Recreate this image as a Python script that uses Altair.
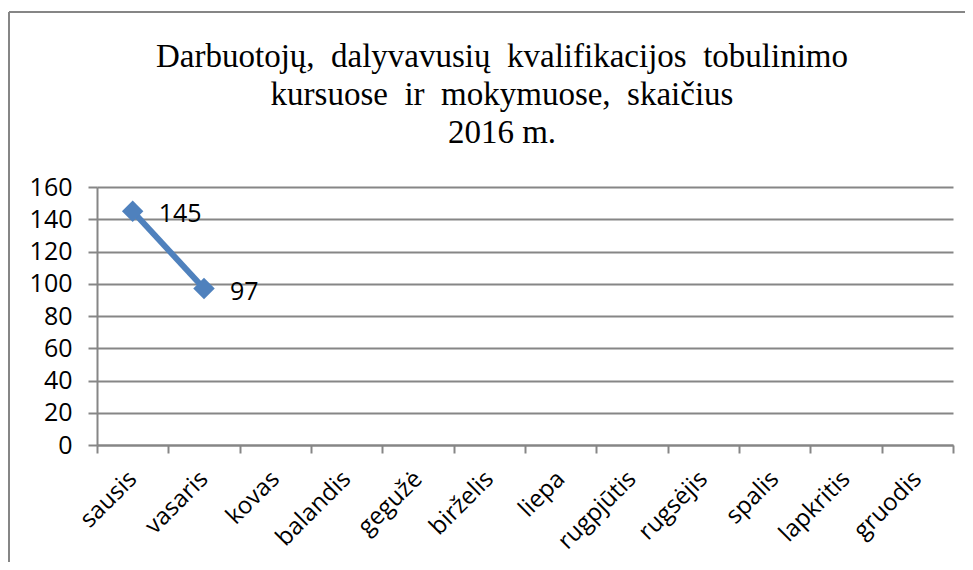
import altair as alt
import pandas as pd

months = ["sausis", "vasaris", "kovas", "balandis", "gegužė", "birželis",
          "liepa", "rugpjūtis", "rugsėjis", "spalis", "lapkritis", "gruodis"]
values = [145, 97]

title_lines = ["Darbuotojų, \u00a0dalyvavusių \u00a0kvalifikacijos \u00a0tobulinimo",
               "kursuose \u00a0ir \u00a0mokymuose, \u00a0skaičius",
               "2016 m."]

df = pd.DataFrame({"month": months[:len(values)], "value": values})

GRAY = "#868686"
BLUE = "#4F81BD"
LABEL_FONT = "Open Sans"
FS = 24

x = alt.X("month:N", sort=months,
          scale=alt.Scale(domain=months, paddingInner=0, paddingOuter=0),
          axis=alt.Axis(title=None, labelAngle=-45, labelAlign="right",
                        labelBaseline="middle", labelPadding=22,
                        labelFont=LABEL_FONT, labelFontSize=FS, labelColor="black",
                        tickBand="extent", tickSize=8, tickColor=GRAY, tickWidth=2,
                        domainColor=GRAY, domainWidth=2, grid=False))
y = alt.Y("value:Q",
          scale=alt.Scale(domain=[0, 160], nice=False),
          axis=alt.Axis(title=None, values=list(range(0, 161, 20)),
                        labelFont=LABEL_FONT, labelFontSize=25, labelColor="black",
                        labelPadding=16, tickSize=9, tickColor=GRAY, tickWidth=2,
                        domainColor=GRAY, domainWidth=2,
                        grid=True, gridColor=GRAY, gridWidth=2))

base = alt.Chart(df)

line = base.mark_line(color=BLUE, strokeWidth=6).encode(x=x, y=y)
points = base.mark_point(shape="diamond", filled=True, color=BLUE, size=460, opacity=1).encode(x=x, y=y)
labels = base.mark_text(align="left", baseline="middle", dx=26, dy=3,
                        font=LABEL_FONT, fontSize=25, color="black").encode(
    x=x, y=y, text=alt.Text("value:Q"))

frame_left = alt.Chart(df).mark_rule(color=GRAY, strokeWidth=2).encode(
    x=alt.value(-88), y=alt.value(-175), y2=alt.value(400))
frame_top = alt.Chart(df).mark_rule(color=GRAY, strokeWidth=2).encode(
    x=alt.value(-88), x2=alt.value(900), y=alt.value(-175))

chart = alt.layer(frame_left, frame_top, line, points, labels).properties(
    width=856, height=258,
    autosize=alt.AutoSizeParams(type="none"),
    padding={"left": 89, "top": 179, "right": 12, "bottom": 117},
    title=alt.TitleParams(text=title_lines, font="Liberation Serif", fontSize=33,
                          fontWeight="normal", color="black", lineHeight=38,
                          anchor="middle", dx=-23, offset=0, dy=139, frame="group"),
).configure_view(stroke=None)

chart.save("out.html", embed_options={"renderer": "svg", "actions": False})
